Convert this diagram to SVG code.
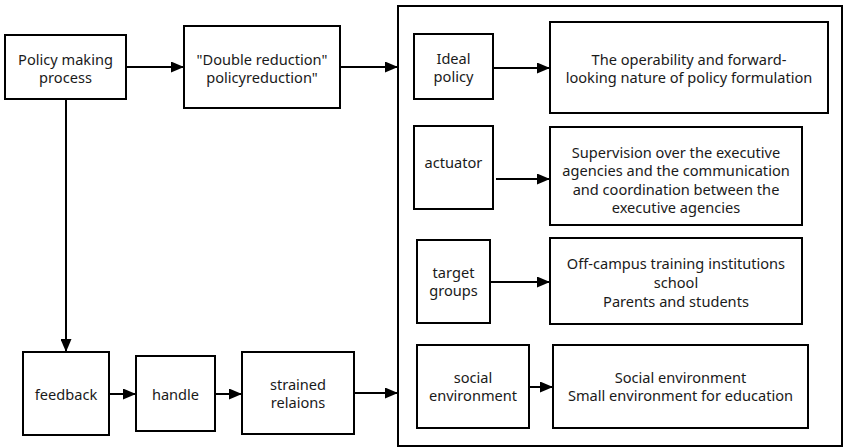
<svg xmlns="http://www.w3.org/2000/svg" width="844" height="447" viewBox="0 0 844 447">
<style>
.box{fill:#fff;stroke:#000;stroke-width:2}
.t{font-family:"Noto Sans","Open Sans","Liberation Sans",sans-serif;font-size:14.6px;fill:#1a1a1a;text-anchor:middle}
.c{stroke:#000;stroke-width:2;fill:none;marker-end:url(#ah)}
</style>
<defs>
<marker id="ah" markerUnits="userSpaceOnUse" markerWidth="13" markerHeight="11" refX="13" refY="5.5" orient="auto">
<path d="M0,0 L13,5.5 L0,11 z" fill="#000"/>
</marker>
</defs>
<rect width="844" height="447" fill="#fff"/>
<g id="container"><rect class="box" x="398" y="6" width="444" height="440"/></g>
<g id="policy-making"><rect class="box" x="5" y="35" width="121" height="64"/><text class="t" x="65.5" y="65">Policy making</text><text class="t" x="65.5" y="83">process</text></g>
<g id="double-reduction"><rect class="box" x="184" y="26" width="156" height="82"/><text class="t" x="262" y="65">"Double reduction"</text><text class="t" x="262" y="83">policyreduction"</text></g>
<g id="ideal-policy"><rect class="box" x="414" y="34" width="79" height="65"/><text class="t" x="453.5" y="64">Ideal</text><text class="t" x="453.5" y="82">policy</text></g>
<g id="operability"><rect class="box" x="550" y="22" width="278" height="91"/><text class="t" x="689" y="65">The operability and forward-</text><text class="t" x="689" y="83">looking nature of policy formulation</text></g>
<g id="actuator"><rect class="box" x="414" y="126" width="79" height="83"/><text class="t" x="453.5" y="168">actuator</text></g>
<g id="supervision"><rect class="box" x="550" y="127" width="252" height="98"/><text class="t" x="676" y="158">Supervision over the executive</text><text class="t" x="676" y="176">agencies and the communication</text><text class="t" x="676" y="194.5">and coordination between the</text><text class="t" x="676" y="213">executive agencies</text></g>
<g id="target-groups"><rect class="box" x="417" y="240" width="73" height="83"/><text class="t" x="453.5" y="278">target</text><text class="t" x="453.5" y="296">groups</text></g>
<g id="off-campus"><rect class="box" x="550" y="238" width="252" height="86"/><text class="t" x="676" y="269">Off-campus training institutions</text><text class="t" x="676" y="288">school</text><text class="t" x="676" y="307">Parents and students</text></g>
<g id="feedback"><rect class="box" x="23" y="352" width="86" height="83"/><text class="t" x="66" y="400">feedback</text></g>
<g id="handle"><rect class="box" x="136" y="356" width="79" height="75"/><text class="t" x="175.5" y="400">handle</text></g>
<g id="strained"><rect class="box" x="242" y="352" width="112" height="82"/><text class="t" x="298" y="390">strained</text><text class="t" x="298" y="408">relaions</text></g>
<g id="social"><rect class="box" x="417" y="345" width="112" height="83"/><text class="t" x="473" y="383">social</text><text class="t" x="473" y="401">environment</text></g>
<g id="social-env"><rect class="box" x="553" y="345" width="255" height="83"/><text class="t" x="680.5" y="383">Social environment</text><text class="t" x="680.5" y="401">Small environment for education</text></g>
<g id="connectors">
<line class="c" x1="126" y1="67" x2="184" y2="67"/>
<line class="c" x1="340" y1="67" x2="398" y2="67"/>
<line class="c" x1="493" y1="68" x2="550" y2="68"/>
<line class="c" x1="496" y1="179" x2="550" y2="179"/>
<line class="c" x1="491" y1="282" x2="550" y2="282"/>
<line class="c" x1="529" y1="387" x2="553" y2="387"/>
<line class="c" x1="66" y1="99" x2="66" y2="352"/>
<line class="c" x1="109" y1="394" x2="136" y2="394"/>
<line class="c" x1="215" y1="394" x2="242" y2="394"/>
<line class="c" x1="354" y1="393" x2="398" y2="393"/>
</g>
</svg>
